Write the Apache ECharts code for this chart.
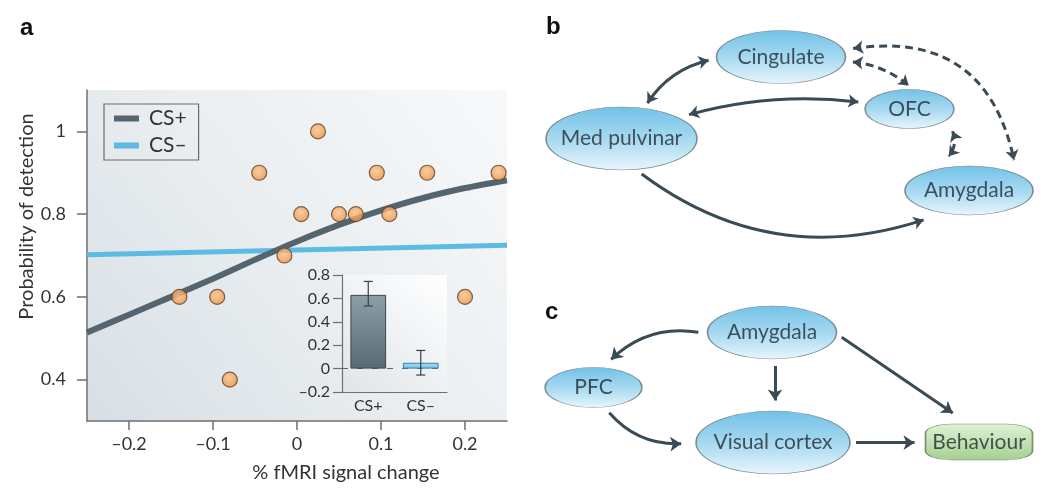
<!DOCTYPE html>
<html><head><meta charset="utf-8">
<script src="https://cdn.jsdelivr.net/npm/echarts@6/dist/echarts.min.js"></script>
<style>html,body{margin:0;padding:0;background:#fff}#c{width:1050px;height:492px}</style>
</head><body><div id="c"></div>
<script>
const FONT = 'Lato, "Open Sans", sans-serif';

// ---- Panel a: scatter + fitted curves ----
const scatterX = [-0.14, -0.095, -0.08, -0.045, -0.015, 0.005, 0.025, 0.05, 0.07, 0.095, 0.11, 0.155, 0.2, 0.24];
const scatterY = [0.6, 0.6, 0.4, 0.9, 0.7, 0.8, 1.0, 0.8, 0.8, 0.9, 0.8, 0.9, 0.6, 0.9];
const csPlusX = [-0.25, -0.2, -0.15, -0.1, -0.05, 0, 0.05, 0.1, 0.15, 0.2, 0.25];
const csPlusY = [0.514, 0.557, 0.600, 0.644, 0.690, 0.734, 0.774, 0.809, 0.839, 0.863, 0.882];
const csMinusX = [-0.25, 0.25];
const csMinusY = [0.702, 0.725];
const mainXTicks = [-0.2, -0.1, 0, 0.1, 0.2];
const mainYTicks = [0.4, 0.6, 0.8, 1];

// ---- Inset bar chart ----
const insetCats = ['CS+', 'CS–'];
const insetVals = [0.63, 0.05];
const insetErrLow = [0.535, -0.055];
const insetErrHigh = [0.745, 0.155];

// ---- Panel b / c diagrams: nodes and links ----
const nodesB = ['Cingulate', 'OFC', 'Med pulvinar', 'Amygdala'];
const linksB = [
  ['Med pulvinar', 'Cingulate', 'solid', 'both'],
  ['Med pulvinar', 'OFC', 'solid', 'both'],
  ['Cingulate', 'OFC', 'dashed', 'both'],
  ['Cingulate', 'Amygdala', 'dashed', 'both'],
  ['OFC', 'Amygdala', 'dashed', 'both'],
  ['Med pulvinar', 'Amygdala', 'solid', 'to']
];
const nodesC = ['Amygdala', 'PFC', 'Visual cortex', 'Behaviour'];
const linksC = [
  ['Amygdala', 'PFC', 'solid', 'to'],
  ['Amygdala', 'Visual cortex', 'solid', 'to'],
  ['Amygdala', 'Behaviour', 'solid', 'to'],
  ['PFC', 'Visual cortex', 'solid', 'to'],
  ['Visual cortex', 'Behaviour', 'solid', 'to']
];

// diagram layout (diagram units on hidden axes)
const layoutNodesB = {
  'Cingulate': {pos: [781, 57], size: [129, 53]},
  'OFC': {pos: [909.5, 109], size: [89, 39]},
  'Med pulvinar': {pos: [621.5, 138.5], size: [151, 63]},
  'Amygdala': {pos: [969, 190.5], size: [128, 49]}
};
const layoutLinksB = [
  {p1: [647.4, 103.1], p2: [708.6, 60.2], curve: 0.2},
  {p1: [689, 114.6], p2: [858.3, 102.1], curve: 0.1},
  {p1: [852.9, 61.9], p2: [908.7, 85.4], curve: 0.15},
  {p1: [853.2, 48.6], p2: [1014, 160.1], curve: 0.47},
  {p1: [952.5, 131.2], p2: [948.7, 156.2], curve: 0.3},
  {p1: [641.7, 174], p2: [923.6, 219.9], curve: -0.26}
];
const layoutNodesC = {
  'Amygdala': {pos: [772, 332.5], size: [129, 53]},
  'PFC': {pos: [593.5, 387.5], size: [97, 40]},
  'Visual cortex': {pos: [773, 442.5], size: [154, 63]},
  'Behaviour': {pos: [979, 442], size: [107, 36]}
};
const layoutLinksC = [
  {p1: [698.3, 332.3], p2: [611.2, 359.4], curve: -0.25},
  {p1: [775, 366], p2: [775, 400.5], curve: 0},
  {p1: [841.7, 337.3], p2: [952.8, 412.9], curve: 0},
  {p1: [609.3, 412.7], p2: [681.2, 443.7], curve: -0.24},
  {p1: [856, 442.7], p2: [914.5, 442.7], curve: 0}
];

const ELLIPSE = 'path://M0,50A50,50,0,1,1,100,50A50,50,0,1,1,0,50Z';
const blueFill = {type: 'linear', x: 0, y: 0, x2: 0, y2: 1, colorStops: [
  {offset: 0, color: '#4fb2e0'}, {offset: 0.55, color: '#96d2ee'}, {offset: 1, color: '#e2f4fb'}]};
const greenFill = {type: 'linear', x: 0, y: 0, x2: 0, y2: 1, colorStops: [
  {offset: 0, color: '#d8eecb'}, {offset: 1, color: '#8ec575'}]};

function nodeData(names, layout) {
  return names.map(n => {
    const L = layout[n];
    const isRect = n === 'Behaviour';
    return {
      name: n, value: L.pos,
      symbol: isRect ? 'roundRect' : ELLIPSE,
      symbolSize: L.size,
      itemStyle: {color: isRect ? greenFill : blueFill, borderColor: isRect ? '#5b7a52' : '#62727c', borderWidth: 1}
    };
  });
}
function linkData(links, layout) {
  return links.map((l, i) => ({
    name: l[0] + '→' + l[1],
    coords: [layout[i].p1, layout[i].p2],
    symbol: l[3] === 'both' ? ['arrow', 'arrow'] : ['none', 'arrow'],
    lineStyle: {curveness: layout[i].curve, type: l[2] === 'dashed' ? [8, 5] : 'solid'}
  }));
}

const tickFmt = v => {
  if (Math.abs(v) < 1e-9) return '0';
  const s = String(Math.round(Math.abs(v) * 100) / 100);
  return (v < 0 ? '–' : '') + s;
};
const axisGrey = '#6f6f6f';
const labelColor = '#333';

const chart = echarts.init(document.getElementById('c'), null, {renderer: 'canvas'});
chart.setOption({
  animation: false,
  textStyle: {fontFamily: FONT},
  graphic: [
    {type: 'text', x: 20, y: 28, style: {text: 'a', font: 'bold 24px "Liberation Sans", Arial', fill: '#111', verticalAlign: 'middle'}},
    {type: 'text', x: 546, y: 27, style: {text: 'b', font: 'bold 24px "Liberation Sans", Arial', fill: '#111', verticalAlign: 'middle'}},
    {type: 'text', x: 545, y: 312, style: {text: 'c', font: 'bold 24px "Liberation Sans", Arial', fill: '#111', verticalAlign: 'middle'}}
  ],
  legend: {
    data: ['CS+', 'CS–'], orient: 'vertical', left: 104, top: 104,
    icon: 'rect', itemWidth: 25, itemHeight: 6, itemGap: 6,
    borderColor: '#6a6a6a', borderWidth: 1.2, padding: [4, 12, 4, 10],
    textStyle: {fontSize: 21, fontFamily: FONT, color: '#333', padding: [0, 0, 0, 5]}
  },
  grid: [
    {left: 87, top: 90, width: 420, height: 331, show: true, borderWidth: 0,
     backgroundColor: {type: 'linear', x: 0, y: 1, x2: 1, y2: 0, colorStops: [
       {offset: 0, color: '#d8dfe4'}, {offset: 0.5, color: '#eaeef1'}, {offset: 1, color: '#f8f9fa'}]}},
    {left: 342, top: 275, width: 105, height: 117, show: true, borderWidth: 0,
     backgroundColor: {type: 'linear', x: 0, y: 1, x2: 1, y2: 0, colorStops: [
       {offset: 0, color: '#e0e5e9'}, {offset: 1, color: '#ffffff'}]}},
    {left: 530, top: 0, width: 520, height: 492, show: false}
  ],
  xAxis: [
    {type: 'value', gridIndex: 0, min: -0.25, max: 0.25,
     name: '% fMRI signal change', nameLocation: 'middle', nameGap: 42,
     nameTextStyle: {fontSize: 20, color: labelColor, padding: [0, 0, 0, 98]},
     axisLine: {show: true, onZero: false, lineStyle: {color: axisGrey, width: 1.5}},
     axisTick: {show: true, length: 9, customValues: mainXTicks, lineStyle: {color: axisGrey, width: 1.5}},
     axisLabel: {customValues: mainXTicks, formatter: tickFmt, fontSize: 18, color: labelColor, margin: 14},
     splitLine: {show: false}},
    {type: 'category', gridIndex: 1, data: insetCats,
     axisLine: {show: true, onZero: false, lineStyle: {color: axisGrey, width: 1.2}},
     axisTick: {show: false},
     axisLabel: {fontSize: 16, color: labelColor, margin: 6}},
    {type: 'value', gridIndex: 2, min: 530, max: 1050, show: false}
  ],
  yAxis: [
    {type: 'value', gridIndex: 0, min: 0.3, max: 1.1,
     name: 'Probability of detection', nameLocation: 'middle', nameGap: 50,
     nameTextStyle: {fontSize: 20, color: labelColor, padding: [0, 0, 0, 78]},
     axisLine: {show: true, onZero: false, lineStyle: {color: axisGrey, width: 1.5}},
     axisTick: {show: true, length: 10, customValues: mainYTicks, lineStyle: {color: axisGrey, width: 1.5}},
     axisLabel: {customValues: mainYTicks, formatter: tickFmt, fontSize: 18, color: labelColor, margin: 21},
     splitLine: {show: false}},
    {type: 'value', gridIndex: 1, min: -0.2, max: 0.8, interval: 0.2,
     axisLine: {show: true, onZero: false, lineStyle: {color: axisGrey, width: 1.2}},
     axisTick: {show: true, length: 9, lineStyle: {color: axisGrey, width: 1.2}},
     axisLabel: {formatter: tickFmt, fontSize: 16, color: labelColor, margin: 12},
     splitLine: {show: false}},
    {type: 'value', gridIndex: 2, min: 0, max: 492, inverse: true, show: false}
  ],
  series: [
    {name: 'CS–', type: 'line', xAxisIndex: 0, yAxisIndex: 0, symbol: 'none', z: 3,
     color: '#5cbbe2', lineStyle: {color: '#5cbbe2', width: 5},
     data: csMinusX.map((x, i) => [x, csMinusY[i]])},
    {name: 'CS+', type: 'line', xAxisIndex: 0, yAxisIndex: 0, symbol: 'none', z: 3, smooth: 0.3,
     color: '#55656f', lineStyle: {color: '#55656f', width: 6},
     data: csPlusX.map((x, i) => [x, csPlusY[i]])},
    {name: 'points', type: 'scatter', xAxisIndex: 0, yAxisIndex: 0, z: 4, symbolSize: 15,
     itemStyle: {color: {type: 'radial', x: 0.45, y: 0.4, r: 0.6, colorStops: [
       {offset: 0, color: '#fbc48c'}, {offset: 1, color: '#f08f3c'}]},
       borderColor: '#5a4230', borderWidth: 1.2},
     data: scatterX.map((x, i) => [x, scatterY[i]])},
    {name: 'inset', type: 'bar', xAxisIndex: 1, yAxisIndex: 1, barWidth: '68%', z: 2,
     data: insetVals.map((v, i) => ({value: v, itemStyle: i === 0 ? {
       color: {type: 'linear', x: 0, y: 0, x2: 0, y2: 1, colorStops: [{offset: 0, color: '#8d9fa9'}, {offset: 1, color: '#5a6b76'}]},
       borderColor: '#3a4750', borderWidth: 1} : {
       color: {type: 'linear', x: 0, y: 0, x2: 0, y2: 1, colorStops: [{offset: 0, color: '#a8def3'}, {offset: 1, color: '#6cc5ea'}]},
       borderColor: '#3b7fa2', borderWidth: 1}})),
     markLine: {z: 1, silent: true, symbol: 'none', label: {show: false},
       lineStyle: {color: '#666', type: [6, 9], width: 1.2}, data: [{yAxis: 0}]}},
    {name: 'errors', type: 'custom', xAxisIndex: 1, yAxisIndex: 1, z: 5,
     data: insetCats.map((c, i) => [i, insetErrLow[i], insetErrHigh[i]]),
     renderItem: function (params, api) {
       const lo = api.coord([api.value(0), api.value(1)]);
       const hi = api.coord([api.value(0), api.value(2)]);
       const w = 4.5, st = {stroke: '#3a3f44', lineWidth: 1.2};
       return {type: 'group', children: [
         {type: 'line', shape: {x1: lo[0], y1: lo[1], x2: hi[0], y2: hi[1]}, style: st},
         {type: 'line', shape: {x1: lo[0] - w, y1: lo[1], x2: lo[0] + w, y2: lo[1]}, style: st},
         {type: 'line', shape: {x1: hi[0] - w, y1: hi[1], x2: hi[0] + w, y2: hi[1]}, style: st}
       ]};
     }},
    {name: 'linksB', type: 'lines', coordinateSystem: 'cartesian2d', xAxisIndex: 2, yAxisIndex: 2, z: 2,
     symbolSize: 10, lineStyle: {color: '#3b4b56', width: 3, opacity: 1},
     data: linkData(linksB, layoutLinksB)},
    {name: 'linksC', type: 'lines', coordinateSystem: 'cartesian2d', xAxisIndex: 2, yAxisIndex: 2, z: 2,
     symbolSize: 11, lineStyle: {color: '#3b4b56', width: 3, opacity: 1},
     data: linkData(linksC, layoutLinksC)},
    {name: 'nodesB', type: 'scatter', xAxisIndex: 2, yAxisIndex: 2, z: 3,
     label: {show: true, position: 'inside', formatter: '{b}', fontSize: 21, fontFamily: FONT, color: '#1f2b33'},
     data: nodeData(nodesB, layoutNodesB)},
    {name: 'nodesC', type: 'scatter', xAxisIndex: 2, yAxisIndex: 2, z: 3,
     label: {show: true, position: 'inside', formatter: '{b}', fontSize: 21, fontFamily: FONT, color: '#1f2b33'},
     data: nodeData(nodesC, layoutNodesC)}
  ]
});
</script>
</body></html>
